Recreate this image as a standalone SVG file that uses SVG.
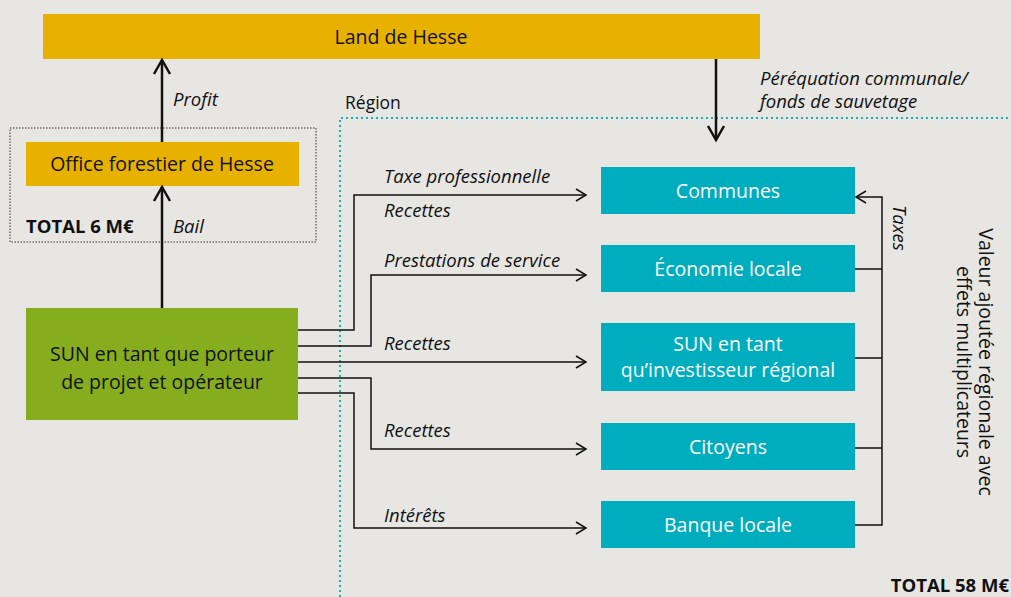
<svg xmlns="http://www.w3.org/2000/svg" width="1011" height="597" viewBox="0 0 1011 597">
<defs>
<style>
.t{font-family:"Open Sans","Noto Sans","Liberation Sans",sans-serif;fill:#111;}
.box{font-size:19.5px;}
.w{fill:#fff;}
.lbl{font-size:18.5px;font-style:italic;}
.b{font-weight:bold;font-size:18.5px;}
.c{fill:none;stroke:#111;stroke-width:1.5;}
.thick{fill:none;stroke:#111;stroke-width:2.5;}
</style>
<marker id="ah" markerWidth="14" markerHeight="14" refX="12" refY="7" orient="auto" markerUnits="userSpaceOnUse">
<path d="M2,1 L12,7 L2,13" fill="none" stroke="#111" stroke-width="1.5"/>
</marker>
<marker id="ah2" markerWidth="20" markerHeight="20" refX="17" refY="10" orient="auto" markerUnits="userSpaceOnUse">
<path d="M3,2 L17,10 L3,18" fill="none" stroke="#111" stroke-width="2.5"/>
</marker>
</defs>
<rect width="1011" height="597" fill="#e7e6e3"/>

<g id="region">
<path d="M340,597 V118 H1011" fill="none" stroke="#1aaebe" stroke-width="2" stroke-dasharray="2,3"/>
<text class="t" x="345" y="109" font-size="17.5">Région</text>
</g>

<g id="office-group">
<rect x="10" y="128" width="306" height="114" fill="none" stroke="#333" stroke-width="1" stroke-dasharray="1.5,1.5"/>
<text class="t b" x="26" y="233">TOTAL 6 M€</text>
</g>

<g id="land">
<rect x="43" y="14" width="717" height="45" fill="#e8b100"/>
<text class="t box" x="401" y="44" text-anchor="middle">Land de Hesse</text>
</g>
<g id="office">
<rect x="26" y="142" width="273" height="44" fill="#e8b100"/>
<text class="t box" x="162" y="171" text-anchor="middle">Office forestier de Hesse</text>
</g>
<g id="sun">
<rect x="26" y="308" width="272" height="112" fill="#85ad1e"/>
<text class="t box" x="162" y="361" text-anchor="middle">SUN en tant que porteur</text>
<text class="t box" x="162" y="389" text-anchor="middle">de projet et opérateur</text>
</g>
<g id="communes">
<rect x="601" y="167" width="254" height="47" fill="#00adbf"/>
<text class="t box w" x="728" y="198" text-anchor="middle">Communes</text>
</g>
<g id="economie">
<rect x="601" y="245" width="254" height="47" fill="#00adbf"/>
<text class="t box w" x="728" y="276" text-anchor="middle">Économie locale</text>
</g>
<g id="sun-regional">
<rect x="601" y="323" width="254" height="68" fill="#00adbf"/>
<text class="t box w" x="728" y="351" text-anchor="middle">SUN en tant</text>
<text class="t box w" x="728" y="377" text-anchor="middle">qu’investisseur régional</text>
</g>
<g id="citoyens">
<rect x="601" y="423" width="254" height="47" fill="#00adbf"/>
<text class="t box w" x="728" y="454" text-anchor="middle">Citoyens</text>
</g>
<g id="banque">
<rect x="601" y="501" width="254" height="47" fill="#00adbf"/>
<text class="t box w" x="728" y="532" text-anchor="middle">Banque locale</text>
</g>

<g id="connectors">
<path class="thick" d="M162,308 V187" marker-end="url(#ah2)"/>
<path class="thick" d="M162,142 V60" marker-end="url(#ah2)"/>
<path class="thick" d="M716,59 V140" marker-end="url(#ah2)"/>
<path class="c" d="M298,330 H354 V195 H586" marker-end="url(#ah)"/>
<path class="c" d="M298,346 H371 V275 H586" marker-end="url(#ah)"/>
<path class="c" d="M298,362 H586" marker-end="url(#ah)"/>
<path class="c" d="M298,378 H371 V449 H586" marker-end="url(#ah)"/>
<path class="c" d="M298,393 H354 V528 H586" marker-end="url(#ah)"/>
<path class="c" d="M855,269 H882 M855,358 H882 M855,448 H882 M855,525 H882 V197 H856" marker-end="url(#ah)"/>
</g>

<g id="labels">
<text class="t lbl" x="173" y="106">Profit</text>
<text class="t lbl" x="173" y="233">Bail</text>
<text class="t lbl" x="760" y="85">Péréquation communale/</text>
<text class="t lbl" x="760" y="108">fonds de sauvetage</text>
<text class="t lbl" x="384" y="183">Taxe professionnelle</text>
<text class="t lbl" x="384" y="217">Recettes</text>
<text class="t lbl" x="384" y="267">Prestations de service</text>
<text class="t lbl" x="384" y="350">Recettes</text>
<text class="t lbl" x="384" y="437">Recettes</text>
<text class="t lbl" x="384" y="522">Intérêts</text>
<text class="t lbl" transform="translate(893,205) rotate(90)">Taxes</text>
<text class="t box" text-anchor="middle" transform="translate(979,362) rotate(90)" font-size="17.5">Valeur ajoutée régionale avec</text>
<text class="t box" text-anchor="middle" transform="translate(957,362) rotate(90)" font-size="17.5">effets multiplicateurs</text>
<text class="t b" x="1009" y="592" text-anchor="end">TOTAL 58 M€</text>
</g>
</svg>
